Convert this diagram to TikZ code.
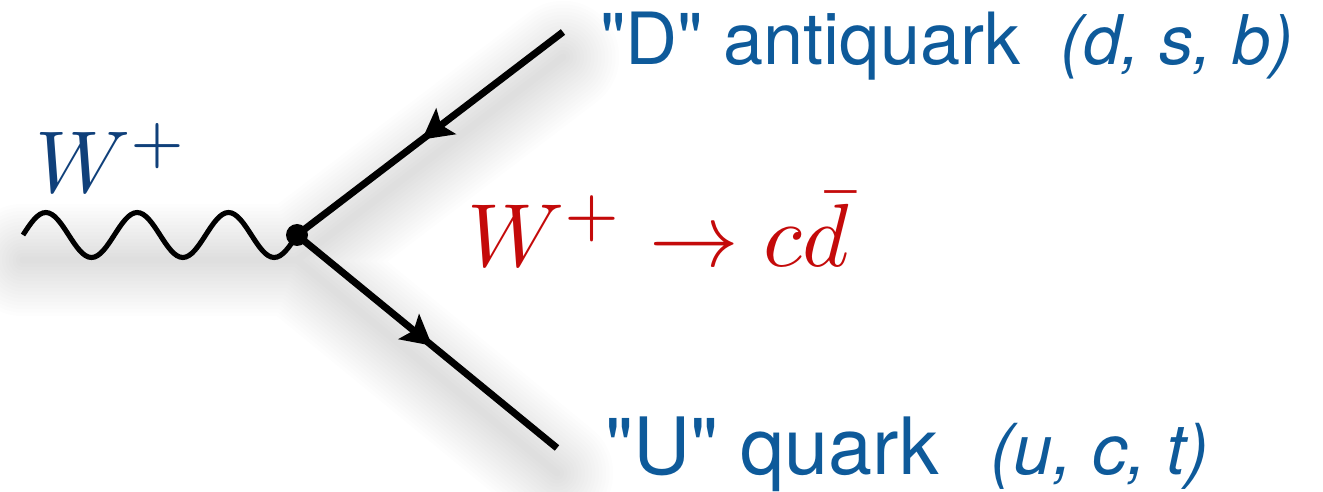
\documentclass[tikz,border=0pt]{standalone}
\usepackage{amsmath}
\usepackage{fontspec}
\setmainfont{TeX Gyre Heros}
\usetikzlibrary{arrows.meta, decorations.markings}
\definecolor{wBlue}{HTML}{10407A}
\definecolor{decayRed}{HTML}{C40A0A}
\definecolor{quarkBlue}{HTML}{0E5A9A}
\tikzset{
    fermion/.style={black, line width=4pt, line cap=butt, postaction={decorate},
        decoration={markings, mark=at position #1 with {\arrow{Stealth[length=0.6cm, width=0.64cm, inset=0.12cm]}}}},
    boson/.style={black, line width=2.9pt, line cap=butt},
}

\begin{document}
\begin{tikzpicture}[line cap=round, >=stealth]
        \useasboundingbox (0,0) rectangle (26.46,9.84);
        \coordinate (wstart) at (0.46,5.14);
        \coordinate (vtx) at (5.94,5.14);
        \coordinate (qtop) at (11.26,9.20);
        \coordinate (qbot) at (11.14,0.88);
        % soft shadow under the lines
        \foreach \w in {4,8,...,64}
            \draw[black, line width=\w pt, opacity=0.0075, line join=round,
                transform canvas={yshift=-0.5cm}] (wstart) -- (vtx) -- (qtop) (vtx) -- (qbot);
        \draw[boson] (wstart) \foreach \i in {1,2,3} {
            sin ++(0.4567,0.45) cos ++(0.4567,-0.45) sin ++(0.4567,-0.45) cos ++(0.4567,0.45)} -- (vtx);
        \draw[fermion=0.53] (qtop) -- (vtx);
        \draw[fermion=0.52] (vtx) -- (qbot);
        \fill (vtx) circle (0.22);
        \node[wBlue, anchor=base west, inner sep=0] (wlabel) at (0.70,5.98) {\scalebox{5.0}{$W^+$}};
        \node[decayRed, anchor=base west, inner sep=0] (decay) at (9.35,4.50) {\scalebox{5.1}{$W^+\to c\bar{d}$}};
        \node[quarkBlue, anchor=base west, inner sep=0, font=\fontsize{41}{44}\selectfont] (dlabel) at (12.0,8.54)
            {\textquotedbl D\textquotedbl{} antiquark\ \ {\fontsize{39}{42}\selectfont\itshape (d, s, b)}};
        \node[quarkBlue, anchor=base west, inner sep=0, font=\fontsize{45}{48}\selectfont] (ulabel) at (12.1,0.34)
            {\textquotedbl U\textquotedbl{} quark\hspace{0.65em}{\fontsize{40}{43}\selectfont\itshape (u, c, t)}};
    \end{tikzpicture}
\end{document}
